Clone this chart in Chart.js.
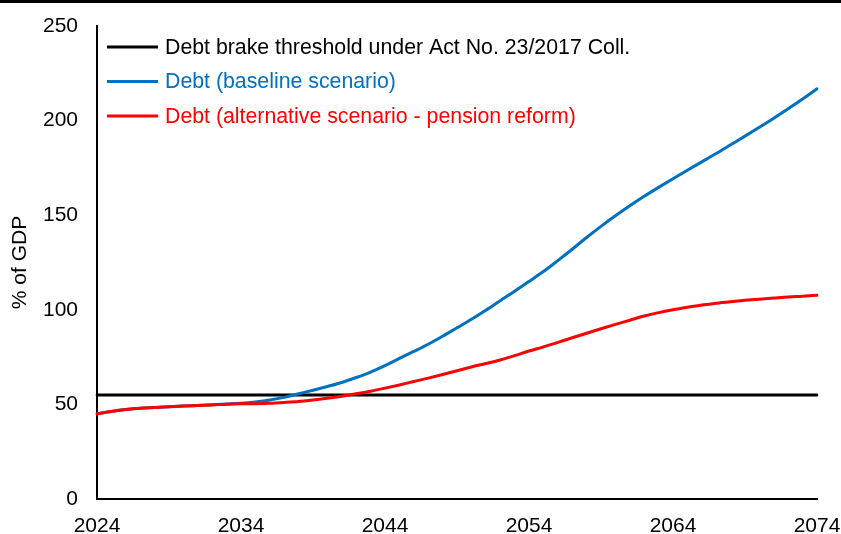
<!DOCTYPE html>
<html>
<head>
<meta charset="utf-8">
<script src="https://cdn.jsdelivr.net/npm/chart.js@4"></script>
<style>
  html, body { margin: 0; padding: 0; background: #fff; }
  #wrap { position: relative; width: 841px; height: 534px; }
</style>
</head>
<body>
<div id="wrap"><canvas id="debt-chart" width="841" height="534"></canvas></div>
<script>
// years on the x axis
var years = [2024,2025,2026,2027,2028,2029,2030,2031,2032,2033,
             2034,2035,2036,2037,2038,2039,2040,2041,2042,2043,
             2044,2045,2046,2047,2048,2049,2050,2051,2052,2053,
             2054,2055,2056,2057,2058,2059,2060,2061,2062,2063,
             2064,2065,2066,2067,2068,2069,2070,2071,2072,2073,2074];

// debt brake threshold (% of GDP)
var threshold = [55,55,55,55,55,55,55,55,55,55,
                 55,55,55,55,55,55,55,55,55,55,
                 55,55,55,55,55,55,55,55,55,55,
                 55,55,55,55,55,55,55,55,55,55,
                 55,55,55,55,55,55,55,55,55,55,55];

// baseline scenario
var baseline = [45.1,46.3,47.3,48.0,48.3,48.7,49.1,49.4,49.8,50.2,
                50.6,51.3,52.3,53.7,55.6,57.5,59.5,61.6,64.2,67.1,
                70.5,74.3,78.0,81.8,86.0,90.5,95.0,99.8,104.8,109.8,
                115.0,120.2,126.0,132.0,138.2,144.1,149.7,155.0,160.0,164.7,
                169.3,173.8,178.2,182.6,187.2,191.8,196.5,201.3,206.3,211.4,216.8];

// alternative scenario - pension reform
var alternative = [45.1,46.3,47.3,48.0,48.3,48.7,49.1,49.4,49.7,50.1,
                   50.3,50.4,50.6,51.0,51.5,52.3,53.2,54.3,55.6,57.0,
                   58.6,60.3,62.1,63.9,65.8,67.8,69.8,71.6,73.5,75.8,
                   78.2,80.4,82.8,85.2,87.6,90.0,92.3,94.5,96.7,98.5,
                   100.0,101.3,102.5,103.5,104.3,105.0,105.6,106.2,106.8,107.2,107.7];

var yTicks = [0, 50, 100, 150, 200, 250];

var FONT = 'Liberation Sans, Arial, sans-serif';

// black rule along the top edge of the picture
var topRule = {
    id: 'topRule',
    afterDraw: function (chart) {
        var ctx = chart.ctx;
        ctx.save();
        ctx.fillStyle = '#000';
        ctx.fillRect(0, 0, chart.width, 3);
        ctx.restore();
    }
};

// legend drawn inside the plot, text coloured like its line
var insideLegend = {
    id: 'insideLegend',
    afterDraw: function (chart) {
        var ctx = chart.ctx;
        var area = chart.chartArea;
        var order = [0, 1, 2];
        ctx.save();
        ctx.font = '21.3px ' + FONT;
        ctx.textBaseline = 'middle';
        ctx.textAlign = 'left';
        order.forEach(function (idx, row) {
            var ds = chart.data.datasets[idx];
            var y = area.top + 21 + row * 34.5;
            ctx.strokeStyle = ds.borderColor;
            ctx.lineWidth = 3;
            ctx.beginPath();
            ctx.moveTo(area.left + 10, y);
            ctx.lineTo(area.left + 61, y);
            ctx.stroke();
            ctx.fillStyle = ds.borderColor;
            ctx.fillText(ds.label, area.left + 68, y + 1);
        });
        ctx.restore();
    }
};

var ctx = document.getElementById('debt-chart');
var debtChart = new Chart(ctx, {
    type: 'line',
    data: {
        labels: years,
        datasets: [{
            label: 'Debt brake threshold under Act No. 23/2017 Coll.',
            data: threshold,
            borderColor: '#000000',
            borderWidth: 3,
            order: 3
        }, {
            label: 'Debt (baseline scenario)',
            data: baseline,
            borderColor: '#0070C0',
            borderWidth: 3,
            order: 2
        }, {
            label: 'Debt (alternative scenario - pension reform)',
            data: alternative,
            borderColor: '#FF0000',
            borderWidth: 3,
            order: 1
        }]
    },
    options: {
        responsive: false,
        animation: false,
        layout: { padding: { top: 26, right: 24, left: 0, bottom: 0 } },
        elements: {
            point: { radius: 0 },
            line: { cubicInterpolationMode: 'monotone', fill: false, borderCapStyle: 'round' }
        },
        plugins: {
            legend: { display: false },
            tooltip: { enabled: false }
        },
        scales: {
            x: {
                type: 'category',
                offset: false,
                grid: { display: false, drawTicks: false },
                border: { display: true, color: '#000', width: 2 },
                ticks: {
                    autoSkip: false,
                    maxRotation: 0,
                    padding: 15,
                    color: '#000',
                    font: { family: FONT, size: 21 },
                    callback: function (val, i) {
                        var yr = years[i];
                        return (yr - 2024) % 10 === 0 ? String(yr) : '';
                    }
                },
                afterFit: function (scale) {
                    scale.height = 35;
                    scale.paddingLeft = 0;
                    scale.paddingRight = 0;
                }
            },
            y: {
                min: 0,
                max: 250,
                grid: { display: false, drawTicks: false },
                border: { display: true, color: '#000', width: 2 },
                afterBuildTicks: function (scale) {
                    scale.ticks = yTicks.map(function (v) { return { value: v }; });
                },
                ticks: {
                    padding: 19,
                    color: '#000',
                    font: { family: FONT, size: 21 }
                },
                title: {
                    display: true,
                    text: '% of GDP',
                    color: '#000',
                    font: { family: FONT, size: 21 },
                    padding: { top: 8, bottom: 0 }
                },
                afterFit: function (scale) {
                    scale.width = 97;
                    scale.paddingTop = 0;
                    scale.paddingBottom = 0;
                }
            }
        }
    },
    plugins: [topRule, insideLegend]
});
</script>
</body>
</html>
